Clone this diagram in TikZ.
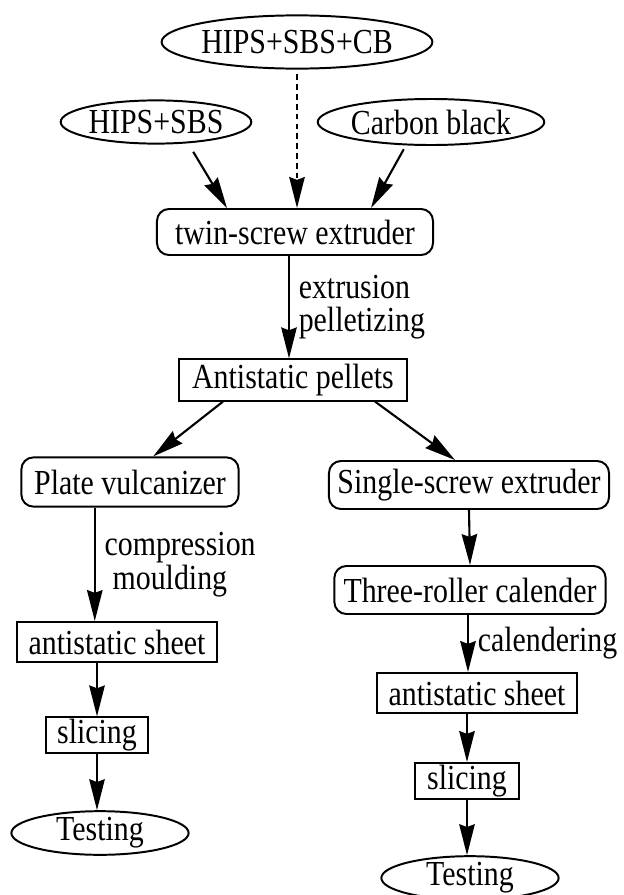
\documentclass[tikz,border=0pt]{standalone}
\usepackage{fontspec}
\setmainfont{Liberation Serif}[FakeStretch=0.85]
\usetikzlibrary{shapes.geometric,arrows.meta}

\begin{document}
\begin{tikzpicture}[x=0.025cm,y=-0.025cm,
    every node/.style={font=\fontsize{25}{21}\selectfont,inner sep=0pt,line width=1.4pt},
    oval/.style={draw,ellipse},
    rbox/.style={draw,rounded corners=0.3cm},
    sbox/.style={draw},
    arr/.style={line width=1.5pt,-{Stealth[length=22pt,width=11pt,inset=2pt]}},
    dasharr/.style={arr,dash pattern=on 4pt off 3pt},
    lbl/.style={right,inner sep=0.22cm,align=left,font=\fontsize{25}{24}\selectfont}]
          \useasboundingbox (0,0) rectangle (624,895);
          \node[oval,minimum width=5.98cm,minimum height=1.33cm] (mix) at (297,42) {HIPS+SBS+CB};
          \node[oval,minimum width=4.45cm,minimum height=1.08cm] (hs) at (156,122) {HIPS+SBS};
          \node[oval,minimum width=4.8cm,minimum height=1.15cm] (cb) at (431,122) {Carbon black};
          \node[rbox,minimum width=6.9cm,minimum height=1.15cm] (twin) at (295,232) {twin-screw extruder};
          \node[sbox,minimum width=5.68cm,minimum height=1.03cm] (pel) at (293,380) {Antistatic pellets};
          \node[rbox,minimum width=5.43cm,minimum height=1.23cm] (plate) at (130,482) {Plate vulcanizer};
          \node[rbox,minimum width=7cm,minimum height=1.2cm] (single) at (469,485) {Single-screw extruder};
          \node[rbox,minimum width=6.78cm,minimum height=1.2cm] (three) at (470,590) {Three-roller calender};
          \node[sbox,minimum width=4.98cm,minimum height=1cm] (sheetL) at (117,642) {antistatic sheet};
          \node[sbox,minimum width=2.55cm,minimum height=0.88cm] (sliceL) at (97,735) {slicing};
          \node[oval,minimum width=4.43cm,minimum height=1.03cm] (testL) at (100,833) {Testing};
          \node[sbox,minimum width=5cm,minimum height=1cm] (sheetR) at (477,693) {antistatic sheet};
          \node[sbox,minimum width=2.58cm,minimum height=0.9cm] (sliceR) at (467,781) {slicing};
          \node[oval,minimum width=4.43cm,minimum height=0.9cm] (testR) at (470,878) {Testing};
          \draw[arr] ([xshift=0.93cm,yshift=-0.18cm]hs.south) -- ([xshift=-1.7cm]twin.north);
          \draw[dasharr] ([yshift=-0.12cm]mix.south) -- (mix.south |- twin.north);
          \draw[arr] ([xshift=-0.68cm,yshift=-0.08cm]cb.south) -- ([xshift=1.9cm]twin.north);
          \draw[arr] ([xshift=-0.15cm]twin.south) -- ([xshift=-0.15cm]twin.south |- pel.north)
            node[lbl,midway] {extrusion\\pelletizing};
          \draw[arr] ([xshift=-1.75cm]pel.south) -- ([xshift=0.58cm]plate.north);
          \draw[arr] ([xshift=2.05cm]pel.south) -- ([xshift=-0.35cm]single.north);
          \draw[arr] ([xshift=-0.88cm]plate.south) -- ([xshift=-0.88cm]plate.south |- sheetL.north)
            node[lbl,midway] {compression\\\hspace*{0.2cm}moulding};
          \draw[arr] (single.south) -- (three.north);
          \draw[arr] ([xshift=-0.05cm]three.south) -- ([xshift=-0.05cm]three.south |- sheetR.north)
            node[lbl,midway] {calendering};
          \draw[arr] (sliceL.north |- sheetL.south) -- (sliceL.north);
          \draw[arr] (sliceL.south) -- (sliceL.south |- testL.north);
          \draw[arr] (sliceR.north |- sheetR.south) -- (sliceR.north);
          \draw[arr] (sliceR.south) -- (sliceR.south |- testR.north);
        \end{tikzpicture}
\end{document}
